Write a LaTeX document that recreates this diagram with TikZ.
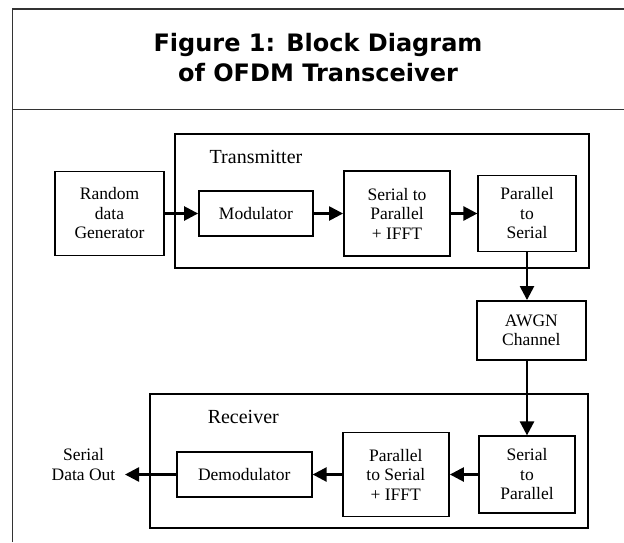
\documentclass[tikz,border=0pt]{standalone}
\usepackage{fontspec}
\setmainfont{Liberation Serif}
\newfontfamily\headfont{DejaVu Sans}
\usetikzlibrary{arrows.meta}
\begin{document}
\begin{tikzpicture}[x=1pt,y=-1pt,
  blk/.style={draw, line width=1.9pt, inner sep=0pt, align=center,
    font=\fontsize{17.5}{19.5}\selectfont},
  grp/.style={draw, line width=1.9pt, inner sep=0pt},
  flow/.style={line width=2.5pt, -{Triangle[length=14pt,width=14pt]}},
  frame/.style={draw=black!80, line width=1.1pt},
  lbl/.style={font=\fontsize{20}{22}\selectfont, inner sep=0pt},
  head/.style={font=\headfont\bfseries\fontsize{24}{28}\selectfont, inner sep=0pt, anchor=base}]
\useasboundingbox (0,0) rectangle (624,542);

% page frame and title band
\draw[frame] (12.7,542) -- (12.7,9) -- (624,9);
\draw[frame] (12.7,109.7) -- (624,109.7);
\node[head] (title1) at (318,51) {Figure 1: Block Diagram};
\node[head] (title2) at (318,81) {of OFDM Transceiver};

% transmitter
\node[grp, minimum width=414.3pt, minimum height=134pt] (tx) at (382.2,201) {};
\node[lbl] (txlabel) at (256,156.7) {Transmitter};
\node[blk, minimum width=109pt, minimum height=84pt] (rdg) at (109.5,213.5) {Random\\data\\Generator};
\node[blk, minimum width=113.7pt, minimum height=44.6pt] (mod) at (255.9,213.5) {Modulator};
\node[blk, minimum width=106pt, minimum height=84.4pt] (spifft) at (397,213.5) {Serial to\\Parallel\\+ IFFT};
\node[blk, minimum width=97.3pt, minimum height=76pt] (ps) at (527,213.5) {Parallel\\to\\Serial};

% channel
\node[blk, minimum width=109.3pt, minimum height=59pt] (awgn) at (531.3,330.5) {AWGN\\Channel};

% receiver
\node[grp, minimum width=438.3pt, minimum height=134pt] (rx) at (369.2,461.3) {};
\node[lbl] (rxlabel) at (243.3,416.7) {Receiver};
\node[blk, minimum width=96.3pt, minimum height=76.3pt] (sp) at (527,474.5) {Serial\\to\\Parallel};
\node[blk, minimum width=106.3pt, minimum height=84pt] (psifft) at (395.8,474.5) {Parallel\\to Serial\\+ IFFT};
\node[blk, minimum width=135pt, minimum height=44.4pt] (demod) at (244.2,474.5) {Demodulator};
\node[align=center, anchor=east, inner xsep=9.5pt, inner ysep=0pt,
  font=\fontsize{17.5}{20}\selectfont] (out) at (125,464.5) {Serial\\Data Out};

% signal flow
\draw[flow] (rdg) -- (mod);
\draw[flow] (mod) -- (spifft);
\draw[flow] (spifft) -- (ps);
\draw[flow] (ps.south) -- (ps.south |- awgn.north);
\draw[flow] (sp.north |- awgn.south) -- (sp.north);
\draw[flow] (sp) -- (psifft);
\draw[flow] (psifft) -- (demod);
\draw[flow] (demod.west) -- (demod.west -| out.east);
\end{tikzpicture}
\end{document}
